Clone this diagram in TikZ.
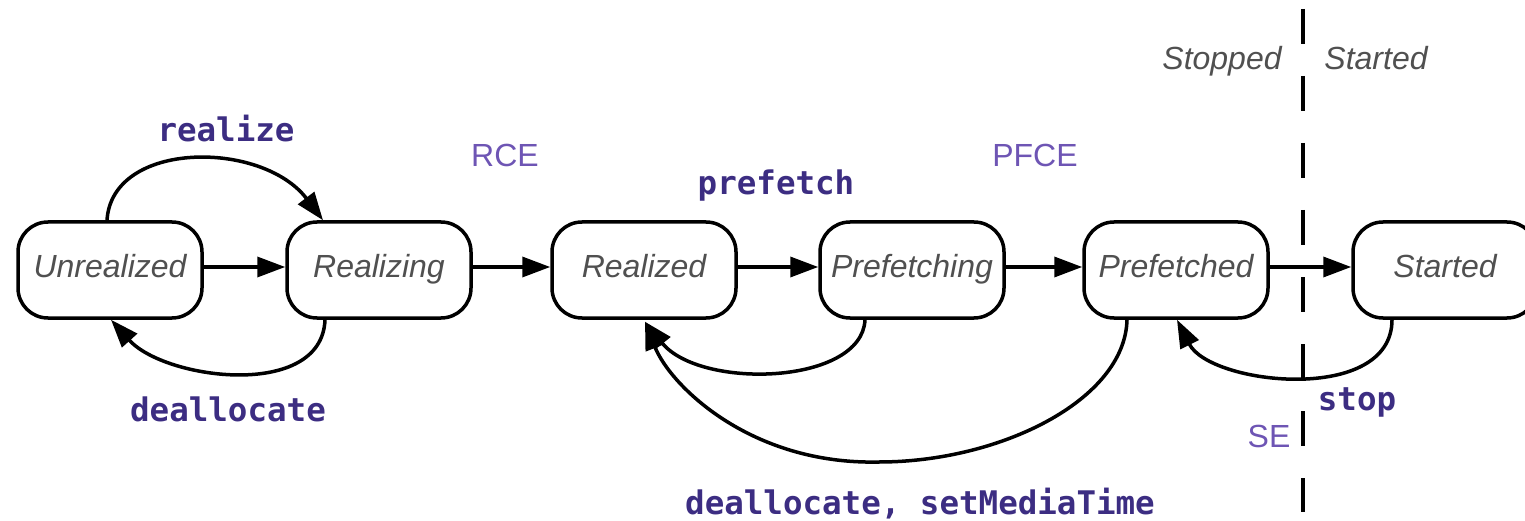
\documentclass[tikz,border=0pt]{standalone}
\usepackage{fontspec}
\setmainfont{Liberation Sans}
\newfontfamily\codefont{DejaVu Sans Mono}
\usetikzlibrary{arrows.meta}

\definecolor{methodblue}{RGB}{60,45,130}
\definecolor{eventpurple}{RGB}{110,85,180}
\definecolor{statetext}{RGB}{80,80,80}

\tikzset{
  state/.style={draw=black, line width=3.5pt, fill=white, rounded corners=30pt,
    minimum width=184pt, minimum height=96pt, inner sep=0pt,
    text height=23pt, text depth=9pt, text=statetext,
    font=\fontsize{32}{36}\selectfont\itshape},
  trans/.style={line width=3.5pt, -{Triangle[length=28pt,width=20pt]}},
  method/.style={anchor=base, inner sep=0pt, text=methodblue,
    font=\codefont\bfseries\fontsize{32.5}{36}\selectfont},
  event/.style={anchor=base, inner sep=0pt, text=eventpurple,
    font=\fontsize{32}{36}\selectfont},
  side/.style={anchor=base, inner sep=0pt, text=statetext,
    font=\fontsize{32}{36}\selectfont\itshape},
  divider/.style={line width=3.5pt, dash pattern=on 35pt off 32pt}
}

\begin{document}
\begin{tikzpicture}[x=1pt, y=-1pt]
\useasboundingbox (0,0) rectangle (1525,521);
\clip (0,0) rectangle (1525,521);

% player states
\node[state] (U)  at (110,270)  {Unrealized};
\node[state] (Rg) at (379,270)  {Realizing};
\node[state] (Rd) at (644,270)  {Realized};
\node[state] (Pg) at (912,270)  {Prefetching};
\node[state] (Pd) at (1176,270) {Prefetched};
\node[state] (St) at (1445,270) {Started};

% stopped / started divider
\coordinate (divtop) at (1303,9);
\coordinate (divbot) at (1303,512);
\draw[divider] (divtop) -- (divbot);

% forward transitions
\draw[trans] ([yshift=3pt]U.east)  -- ([yshift=3pt]Rg.west);
\draw[trans] ([yshift=3pt]Rg.east) -- ([yshift=3pt]Rd.west);
\draw[trans] ([yshift=3pt]Rd.east) -- ([yshift=3pt]Pg.west);
\draw[trans] ([yshift=3pt]Pg.east) -- ([yshift=3pt]Pd.west);
\draw[trans] ([yshift=3pt]Pd.east) -- ([yshift=3pt]St.west);

% realize
\draw[trans] ([xshift=-3pt]U.north) .. controls (112,140) and (262,140) .. ([xshift=-56pt]Rg.north);
% deallocate back to Unrealized
\draw[trans] ([xshift=-54pt]Rg.south) .. controls (322,400) and (165,380) .. ([xshift=1pt]U.south);
% Prefetching back to Realized
\draw[trans] ([xshift=-47pt]Pg.south) .. controls (862,385) and (700,390) .. ([xshift=1pt,yshift=-2pt]Rd.south);
% deallocate / setMediaTime from Prefetched
\coordinate (lowmid) at (879,462);
\draw[trans] ([xshift=-49pt]Pd.south) .. controls (1125,400) and (1000,462) .. (lowmid)
  .. controls (750,465) and (670,385) .. ([xshift=1pt,yshift=-2pt]Rd.south);
% stop
\draw[trans] ([xshift=-53pt]St.south) .. controls (1392,405) and (1210,385) .. ([xshift=1pt]Pd.south);

% method labels
\node[method] (lrealize) at (226,142) {realize};
\node[method] (ldealloc) at (228,421) {deallocate};
\node[method] (lprefetch) at (776,195) {prefetch};
\node[method] (ldeallocsmt) at (920,514) {deallocate, setMediaTime};
\node[method] (lstop) at (1357,410) {stop};

% event labels
\node[event] (lrce)  at (505,167)  {RCE};
\node[event] (lpfce) at (1035,167) {PFCE};
\node[event] (lse)   at (1269,447) {SE};

% region labels
\node[side] (lstopped) at (1222,70) {Stopped};
\node[side] (lstarted) at (1376,70) {Started};
\end{tikzpicture}
\end{document}
